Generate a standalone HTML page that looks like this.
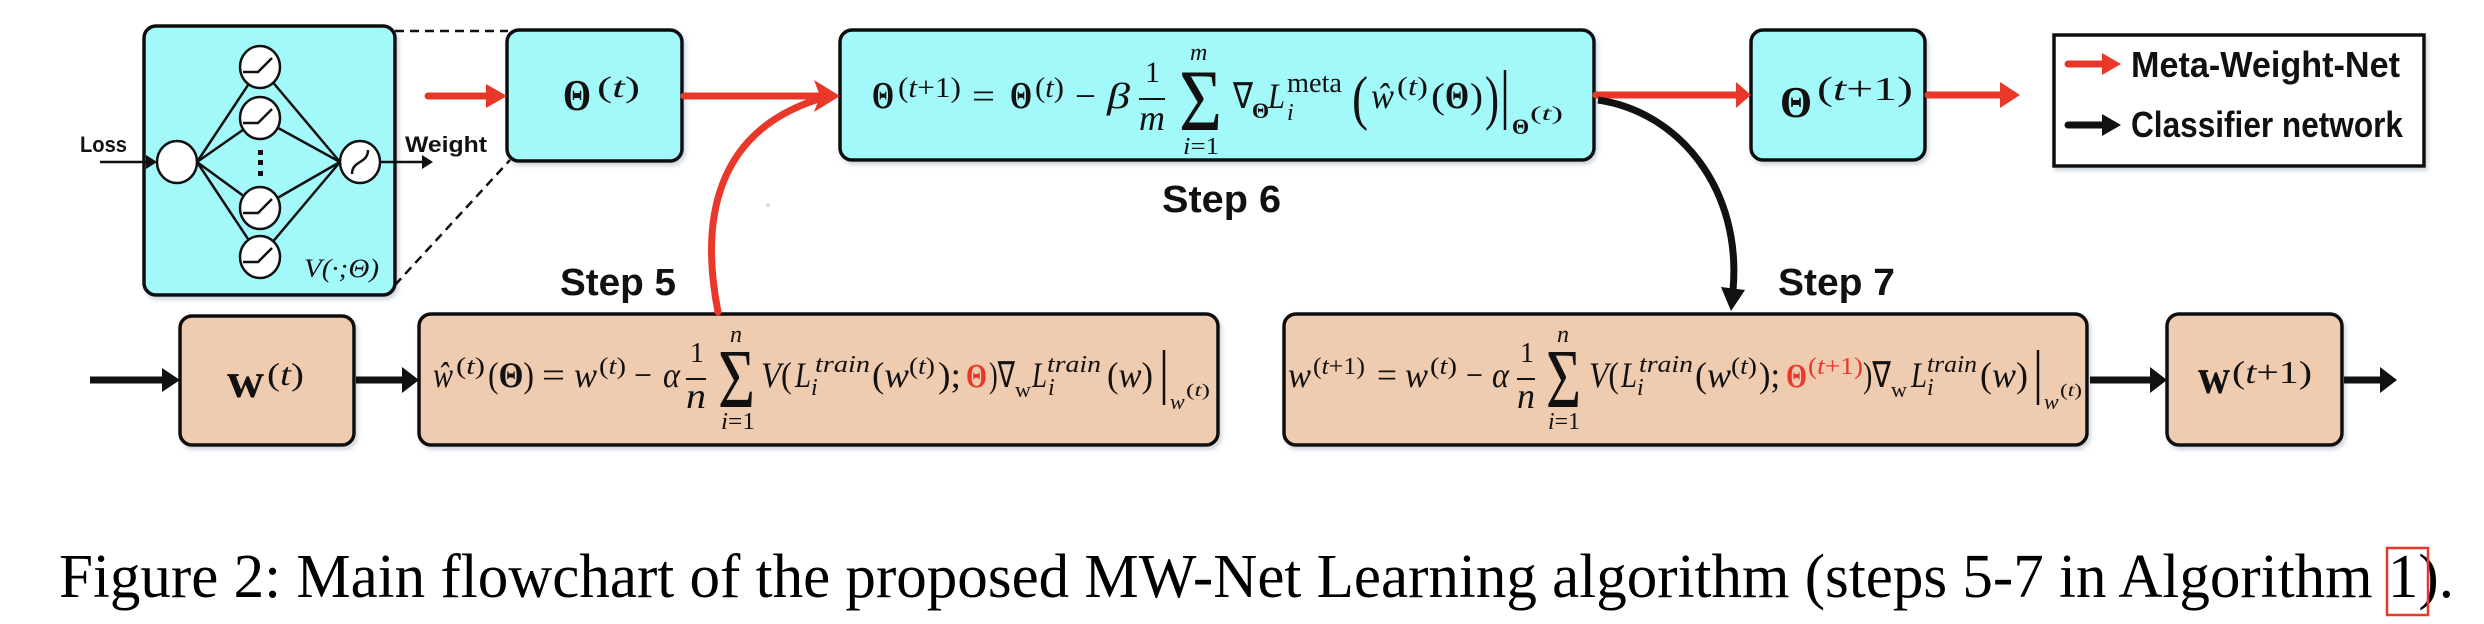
<!DOCTYPE html>
<html><head><meta charset="utf-8"><style>
html,body{margin:0;padding:0;background:#fff;}
svg{display:block}
.m{font-family:"Liberation Serif",serif;font-style:italic;font-size:36px;fill:#111}
.s{font-family:"Liberation Serif",serif;font-style:italic;font-size:24px;fill:#111}
.u{font-family:"Liberation Serif",serif;font-size:36px;fill:#111}
.us{font-family:"Liberation Serif",serif;font-size:24px;fill:#111}
.b{font-family:"Liberation Serif",serif;font-weight:bold;font-size:38px;fill:#111}
.st{font-family:"Liberation Sans",sans-serif;font-weight:bold;font-size:38px;fill:#111}
.lg{font-family:"Liberation Sans",sans-serif;font-weight:bold;font-size:36px;fill:#111}
.nl{font-family:"Liberation Sans",sans-serif;font-weight:bold;font-size:22px;fill:#111}
.sg{font-family:"Liberation Serif",serif;font-size:88px;fill:#111}
.r{fill:#e8382a}
</style></head><body>
<svg width="2484" height="624" viewBox="0 0 2484 624" xmlns="http://www.w3.org/2000/svg">
<defs>
<filter id="sh" x="-5%" y="-5%" width="110%" height="115%"><feDropShadow dx="2" dy="3" stdDeviation="2" flood-color="#9ab" flood-opacity="0.5"/></filter>
</defs>
<g stroke="#111" stroke-width="3.5" filter="url(#sh)">
<rect x="144" y="26" width="251" height="269" rx="12" fill="#a3f8fa"/>
<rect x="507" y="30" width="175" height="131" rx="12" fill="#a3f8fa"/>
<rect x="840" y="30" width="754" height="130" rx="12" fill="#a3f8fa"/>
<rect x="1751" y="30" width="174" height="130" rx="12" fill="#a3f8fa"/>
<rect x="180" y="316" width="174" height="129" rx="12" fill="#efcbb0"/>
<rect x="419" y="314" width="799" height="131" rx="12" fill="#efcbb0"/>
<rect x="1284" y="314" width="803" height="131" rx="12" fill="#efcbb0"/>
<rect x="2167" y="314" width="175" height="131" rx="12" fill="#efcbb0"/>
<rect x="2054" y="35" width="370" height="131" rx="0" fill="#fff"/>
</g>
<g stroke="#111" stroke-width="2.5" stroke-dasharray="9,6" fill="none">
<line x1="395" y1="31" x2="508" y2="31"/>
<line x1="395" y1="285" x2="510" y2="160"/>
</g>
<g stroke="#111" stroke-width="2.5" fill="none">
<path d="M197,162 L260,67 M197,162 L260,118 M197,162 L260,208 M197,162 L260,257 M260,67 L340,162 M260,118 L340,162 M260,208 L340,162 M260,257 L340,162"/>
</g>
<g stroke="#111" stroke-width="2.5" fill="#fff">
<ellipse cx="177" cy="162" rx="20" ry="21"/>
<ellipse cx="260" cy="67" rx="20" ry="21"/>
<ellipse cx="260" cy="118" rx="20" ry="21"/>
<ellipse cx="260" cy="208" rx="20" ry="21"/>
<ellipse cx="260" cy="257" rx="20" ry="21"/>
<ellipse cx="360" cy="162" rx="20" ry="21"/>
</g>
<g stroke="#111" stroke-width="2.5" fill="none">
<path d="M243,72 L258,72 L272,58"/>
<path d="M243,123 L258,123 L272,109"/>
<path d="M243,213 L258,213 L272,199"/>
<path d="M243,262 L258,262 L272,248"/>
<path d="M352,174 C352,160 368,164 368,150"/>
</g>
<g fill="#111"><rect x="258" y="150" width="5" height="5"/><rect x="258" y="160" width="5" height="5"/><rect x="258" y="171" width="5" height="5"/></g>
<text class="nl" x="80" y="152" textLength="47" lengthAdjust="spacingAndGlyphs">Loss</text>
<text class="nl" x="405" y="152" textLength="82" lengthAdjust="spacingAndGlyphs">Weight</text>
<line x1="100" y1="162" x2="148" y2="162" stroke="#111" stroke-width="2.5"/>
<polygon points="146,155 157,162 146,169" fill="#111"/>
<line x1="381" y1="162" x2="424" y2="162" stroke="#111" stroke-width="2.5"/>
<polygon points="422,155 433,162 422,169" fill="#111"/>
<text class="s" x="304" y="277" style="font-size:26px" textLength="75" lengthAdjust="spacingAndGlyphs">V(·;Θ)</text>

<text class="b" x="563" y="110" style="font-size:44px" textLength="28" lengthAdjust="spacingAndGlyphs">Θ</text>
<text class="us" x="597" y="97" style="font-size:30px" textLength="43" lengthAdjust="spacingAndGlyphs">(<tspan font-style="italic">t</tspan>)</text>
<text class="b" x="1780" y="117" style="font-size:44px" textLength="32" lengthAdjust="spacingAndGlyphs">Θ</text>
<text class="us" x="1817" y="100" style="font-size:34px" textLength="96" lengthAdjust="spacingAndGlyphs">(<tspan font-style="italic">t</tspan>+1)</text>
<text class="b" x="227" y="397" style="font-size:50px" textLength="37" lengthAdjust="spacingAndGlyphs">w</text>
<text class="us" x="267" y="385" style="font-size:32px" textLength="37" lengthAdjust="spacingAndGlyphs">(<tspan font-style="italic">t</tspan>)</text>
<text class="b" x="2198" y="393" style="font-size:50px" textLength="32" lengthAdjust="spacingAndGlyphs">w</text>
<text class="us" x="2232" y="383" style="font-size:32px" textLength="80" lengthAdjust="spacingAndGlyphs">(<tspan font-style="italic">t</tspan>+1)</text>

<!-- Box2 formula -->
<text class="b" x="872" y="108" textLength="22" lengthAdjust="spacingAndGlyphs">Θ</text>
<text class="us" x="898" y="97" style="font-size:28px" textLength="63" lengthAdjust="spacingAndGlyphs">(<tspan font-style="italic">t</tspan>+1)</text>
<text class="u" x="972" y="108" textLength="23" lengthAdjust="spacingAndGlyphs">=</text>
<text class="b" x="1010" y="108" textLength="22" lengthAdjust="spacingAndGlyphs">Θ</text>
<text class="us" x="1035" y="97" style="font-size:28px" textLength="29" lengthAdjust="spacingAndGlyphs">(<tspan font-style="italic">t</tspan>)</text>
<text class="u" x="1075" y="108" textLength="21" lengthAdjust="spacingAndGlyphs">−</text>
<text class="m" x="1107" y="108" textLength="23" lengthAdjust="spacingAndGlyphs">β</text>
<text class="u" x="1145" y="82" style="font-size:30px">1</text>
<line x1="1139" y1="99" x2="1165" y2="99" stroke="#111" stroke-width="2"/>
<text class="m" x="1139" y="130" textLength="26" lengthAdjust="spacingAndGlyphs">m</text>
<text class="sg" x="1179" y="130" textLength="43" lengthAdjust="spacingAndGlyphs">Σ</text>
<text class="s" x="1190" y="60">m</text>
<text class="s" x="1183" y="154" textLength="36" lengthAdjust="spacingAndGlyphs">i<tspan font-style="normal">=1</tspan></text>
<text class="u" x="1233" y="108" textLength="20" lengthAdjust="spacingAndGlyphs">∇</text>
<text class="b" x="1252" y="118" style="font-size:22px">Θ</text>
<text class="m" x="1268" y="108" textLength="17" lengthAdjust="spacingAndGlyphs">L</text>
<text class="us" x="1287" y="92" style="font-size:28px" textLength="55" lengthAdjust="spacingAndGlyphs">meta</text>
<text class="s" x="1287" y="120">i</text>
<text class="u" x="1352" y="118" style="font-size:60px" textLength="16" lengthAdjust="spacingAndGlyphs">(</text>
<text class="m" x="1371" y="108" textLength="23" lengthAdjust="spacingAndGlyphs">ŵ</text>
<text class="us" x="1397" y="95" style="font-size:26px" textLength="31" lengthAdjust="spacingAndGlyphs">(<tspan font-style="italic">t</tspan>)</text>
<text class="u" x="1431" y="108" textLength="14" lengthAdjust="spacingAndGlyphs">(</text>
<text class="b" x="1445" y="108" textLength="24" lengthAdjust="spacingAndGlyphs">Θ</text>
<text class="u" x="1470" y="108" textLength="13" lengthAdjust="spacingAndGlyphs">)</text>
<text class="u" x="1485" y="118" style="font-size:60px" textLength="14" lengthAdjust="spacingAndGlyphs">)</text>
<line x1="1505" y1="70" x2="1505" y2="130" stroke="#111" stroke-width="2.5"/>
<text class="b" x="1512" y="134" style="font-size:22px">Θ</text>
<text class="us" x="1530" y="120" style="font-size:20px" textLength="33" lengthAdjust="spacingAndGlyphs">(<tspan font-style="italic">t</tspan>)</text>

<!-- Box5 formula -->
<text class="m" x="433" y="387" textLength="20" lengthAdjust="spacingAndGlyphs">ŵ</text>
<text class="us" x="456" y="374" style="font-size:24px" textLength="29" lengthAdjust="spacingAndGlyphs">(<tspan font-style="italic">t</tspan>)</text>
<text class="u" x="488" y="387" textLength="46" lengthAdjust="spacingAndGlyphs">(<tspan font-weight="bold">Θ</tspan>)</text>
<text class="u" x="542" y="387" textLength="23" lengthAdjust="spacingAndGlyphs">=</text>
<text class="m" x="574" y="387" textLength="23" lengthAdjust="spacingAndGlyphs">w</text>
<text class="us" x="599" y="374" style="font-size:24px" textLength="27" lengthAdjust="spacingAndGlyphs">(<tspan font-style="italic">t</tspan>)</text>
<text class="u" x="634" y="387" textLength="18" lengthAdjust="spacingAndGlyphs">−</text>
<text class="m" x="663" y="387" textLength="17" lengthAdjust="spacingAndGlyphs">α</text>
<text class="u" x="690" y="362" style="font-size:28px">1</text>
<line x1="686" y1="379" x2="706" y2="379" stroke="#111" stroke-width="2"/>
<text class="m" x="686" y="408" textLength="20" lengthAdjust="spacingAndGlyphs">n</text>
<text class="sg" x="718" y="407" style="font-size:84px" textLength="37" lengthAdjust="spacingAndGlyphs">Σ</text>
<text class="s" x="730" y="342">n</text>
<text class="s" x="721" y="429" textLength="34" lengthAdjust="spacingAndGlyphs">i<tspan font-style="normal">=1</tspan></text>
<text class="m" x="761" y="387" textLength="31" lengthAdjust="spacingAndGlyphs">V<tspan font-style="normal">(</tspan></text>
<text class="m" x="795" y="387" textLength="16" lengthAdjust="spacingAndGlyphs">L</text>
<text class="s" x="815" y="372" textLength="55" lengthAdjust="spacingAndGlyphs">train</text>
<text class="s" x="811" y="395">i</text>
<text class="m" x="872" y="387" textLength="37" lengthAdjust="spacingAndGlyphs"><tspan font-style="normal">(</tspan>w</text>
<text class="us" x="909" y="374" style="font-size:24px" textLength="26" lengthAdjust="spacingAndGlyphs">(<tspan font-style="italic">t</tspan>)</text>
<text class="u" x="938" y="387" textLength="23" lengthAdjust="spacingAndGlyphs">);</text>
<text class="b r" x="966" y="387" style="font-size:34px" textLength="21" lengthAdjust="spacingAndGlyphs">Θ</text>
<text class="u" x="989" y="387" textLength="26" lengthAdjust="spacingAndGlyphs">)∇</text>
<text class="us" x="1015" y="397" style="font-size:22px">w</text>
<text class="m" x="1032" y="387" textLength="15" lengthAdjust="spacingAndGlyphs">L</text>
<text class="s" x="1047" y="372" textLength="54" lengthAdjust="spacingAndGlyphs">train</text>
<text class="s" x="1048" y="395">i</text>
<text class="m" x="1107" y="387" textLength="46" lengthAdjust="spacingAndGlyphs"><tspan font-style="normal">(</tspan>w<tspan font-style="normal">)</tspan></text>
<line x1="1164" y1="350" x2="1164" y2="405" stroke="#111" stroke-width="2.5"/>
<text class="s" x="1170" y="409" style="font-size:22px">w</text>
<text class="us" x="1186" y="396" style="font-size:18px" textLength="24" lengthAdjust="spacingAndGlyphs">(<tspan font-style="italic">t</tspan>)</text>

<!-- Box7 formula -->
<text class="m" x="1288" y="387" textLength="23" lengthAdjust="spacingAndGlyphs">w</text>
<text class="us" x="1313" y="374" style="font-size:24px" textLength="52" lengthAdjust="spacingAndGlyphs">(<tspan font-style="italic">t</tspan>+1)</text>
<text class="u" x="1377" y="387" textLength="20" lengthAdjust="spacingAndGlyphs">=</text>
<text class="m" x="1405" y="387" textLength="23" lengthAdjust="spacingAndGlyphs">w</text>
<text class="us" x="1430" y="374" style="font-size:24px" textLength="27" lengthAdjust="spacingAndGlyphs">(<tspan font-style="italic">t</tspan>)</text>
<text class="u" x="1466" y="387" textLength="17" lengthAdjust="spacingAndGlyphs">−</text>
<text class="m" x="1492" y="387" textLength="17" lengthAdjust="spacingAndGlyphs">α</text>
<text class="u" x="1520" y="362" style="font-size:28px">1</text>
<line x1="1517" y1="379" x2="1535" y2="379" stroke="#111" stroke-width="2"/>
<text class="m" x="1517" y="408" textLength="18" lengthAdjust="spacingAndGlyphs">n</text>
<text class="sg" x="1546" y="407" style="font-size:84px" textLength="35" lengthAdjust="spacingAndGlyphs">Σ</text>
<text class="s" x="1557" y="342">n</text>
<text class="s" x="1548" y="429" textLength="32" lengthAdjust="spacingAndGlyphs">i<tspan font-style="normal">=1</tspan></text>
<text class="m" x="1589" y="387" textLength="30" lengthAdjust="spacingAndGlyphs">V<tspan font-style="normal">(</tspan></text>
<text class="m" x="1621" y="387" textLength="16" lengthAdjust="spacingAndGlyphs">L</text>
<text class="s" x="1639" y="372" textLength="54" lengthAdjust="spacingAndGlyphs">train</text>
<text class="s" x="1637" y="395">i</text>
<text class="m" x="1695" y="387" textLength="36" lengthAdjust="spacingAndGlyphs"><tspan font-style="normal">(</tspan>w</text>
<text class="us" x="1731" y="374" style="font-size:24px" textLength="26" lengthAdjust="spacingAndGlyphs">(<tspan font-style="italic">t</tspan>)</text>
<text class="u" x="1759" y="387" textLength="21" lengthAdjust="spacingAndGlyphs">);</text>
<text class="b r" x="1786" y="387" style="font-size:34px" textLength="21" lengthAdjust="spacingAndGlyphs">Θ</text>
<text class="us r" x="1808" y="374" style="font-size:24px" textLength="55" lengthAdjust="spacingAndGlyphs">(<tspan font-style="italic">t</tspan>+1)</text>
<text class="u" x="1863" y="387" textLength="28" lengthAdjust="spacingAndGlyphs">)∇</text>
<text class="us" x="1891" y="397" style="font-size:22px">w</text>
<text class="m" x="1911" y="387" textLength="16" lengthAdjust="spacingAndGlyphs">L</text>
<text class="s" x="1927" y="372" textLength="50" lengthAdjust="spacingAndGlyphs">train</text>
<text class="s" x="1927" y="395">i</text>
<text class="m" x="1980" y="387" textLength="48" lengthAdjust="spacingAndGlyphs"><tspan font-style="normal">(</tspan>w<tspan font-style="normal">)</tspan></text>
<line x1="2038" y1="350" x2="2038" y2="405" stroke="#111" stroke-width="2.5"/>
<text class="s" x="2044" y="409" style="font-size:22px">w</text>
<text class="us" x="2060" y="396" style="font-size:18px" textLength="22" lengthAdjust="spacingAndGlyphs">(<tspan font-style="italic">t</tspan>)</text>

<text class="st" x="560" y="295" textLength="116" lengthAdjust="spacingAndGlyphs">Step 5</text>
<text class="st" x="1162" y="212" textLength="119" lengthAdjust="spacingAndGlyphs">Step 6</text>
<text class="st" x="1778" y="295" textLength="117" lengthAdjust="spacingAndGlyphs">Step 7</text>

<g stroke="#e8382a" stroke-width="7" fill="none" stroke-linecap="round">
<line x1="428" y1="96" x2="492" y2="96"/>
<line x1="684" y1="96" x2="822" y2="96"/>
<path d="M718,312 C700,220 715,130 822,98"/>
<line x1="1596" y1="95" x2="1738" y2="95"/>
<line x1="1928" y1="95" x2="2005" y2="95"/>
<line x1="2068" y1="64" x2="2106" y2="64"/>
</g>
<g fill="#e8382a">
<polygon points="486,84 507,96 486,108"/>
<polygon points="814,80 840,96 814,112 820,96"/>
<polygon points="1736,82 1751,95 1736,108"/>
<polygon points="2000,82 2020,95 2000,108"/>
<polygon points="2102,53 2121,64 2102,75"/>
</g>
<g stroke="#111" stroke-width="7" fill="none">
<line x1="90" y1="380" x2="164" y2="380"/>
<line x1="356" y1="380" x2="404" y2="380"/>
<line x1="2090" y1="380" x2="2152" y2="380"/>
<line x1="2344" y1="380" x2="2385" y2="380"/>
<line x1="2068" y1="125" x2="2106" y2="125" stroke-linecap="round"/>
<path d="M1598,100 C1680,112 1742,190 1733,290"/>
</g>
<g fill="#111">
<polygon points="162,368 180,380 162,392"/>
<polygon points="402,367 419,380 402,393"/>
<polygon points="2150,367 2167,380 2150,393"/>
<polygon points="2380,367 2397,380 2380,393"/>
<polygon points="2102,114 2121,125 2102,136"/>
<polygon points="1721,287 1745,290 1731,311"/>
</g>
<text class="lg" x="2131" y="77" textLength="269" lengthAdjust="spacingAndGlyphs">Meta-Weight-Net</text>
<text class="lg" x="2131" y="137" textLength="272" lengthAdjust="spacingAndGlyphs">Classifier network</text>
<circle cx="768" cy="205" r="2" fill="#cde"/>

<text x="59" y="597" font-family="Liberation Serif, serif" font-size="62" fill="#000" textLength="2395" lengthAdjust="spacingAndGlyphs">Figure 2: Main flowchart of the proposed MW-Net Learning algorithm (steps 5-7 in Algorithm 1).</text>
<rect x="2387" y="548" width="41" height="67" fill="none" stroke="#e8382a" stroke-width="2.5"/>
</svg>
</body></html>
